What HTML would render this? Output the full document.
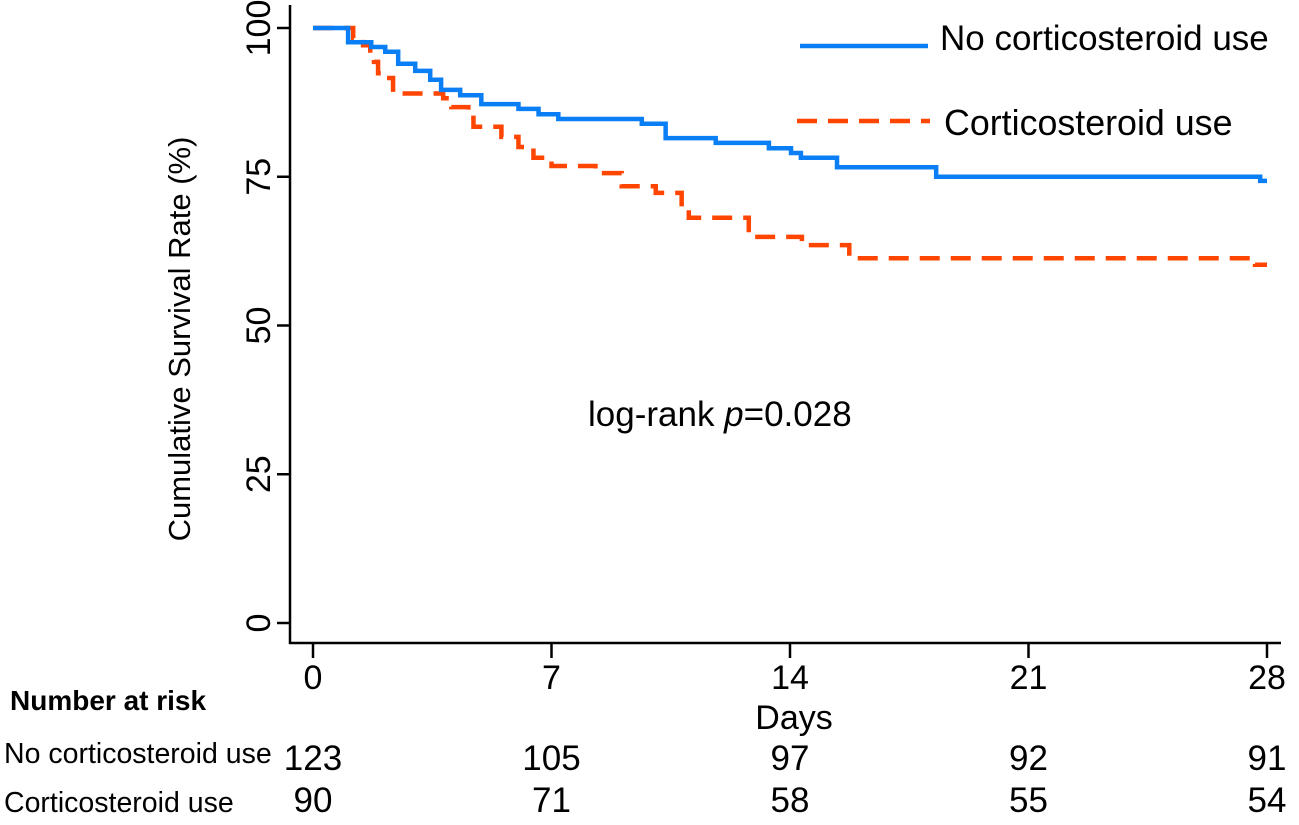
<!DOCTYPE html>
<html><head><meta charset="utf-8"><style>
body{margin:0;background:#fff;}
svg text{font-family:"Liberation Sans",Arial,sans-serif;fill:#000;}
</style></head><body>
<svg width="1299" height="820" viewBox="0 0 1299 820" id="chart">
<rect width="1299" height="820" fill="#fff"/>
<g id="axes"></g>
<g id="curves"></g>
<g>
<line x1="800" y1="46" x2="928" y2="46" stroke="#0A7FF5" stroke-width="4.5"/>
<text x="940" y="50" font-size="35">No corticosteroid use</text>
<line x1="797" y1="121" x2="930" y2="121" stroke="#FF4500" stroke-width="4.5" stroke-dasharray="20,11"/>
<text x="944" y="135" font-size="35.8">Corticosteroid use</text>
</g>
<text x="588" y="426" font-size="35">log-rank <tspan font-style="italic">p</tspan>=0.028</text>
<text transform="translate(190,339) rotate(-90)" text-anchor="middle" font-size="31">Cumulative Survival Rate (%)</text>
<text x="794" y="729" text-anchor="middle" font-size="34">Days</text>
<text x="10" y="710" font-size="28" font-weight="bold">Number at risk</text>
<text x="4" y="763" font-size="28.5">No corticosteroid use</text>
<text x="4" y="812" font-size="28.5">Corticosteroid use</text>
<g id="risk"></g>
</svg>
<script>
const xTicks=[0,7,14,21,28];
const yTicks=[0,25,50,75,100];
const blueTimes=[0,1.03,1.71,2.12,2.5,3.0,3.44,3.76,4.32,4.94,6.03,6.62,7.2,9.65,10.35,11.82,13.38,14.03,14.32,15.38,18.29,27.8];
const blueSurv=[100,97.6,96.8,96.0,94.0,92.8,91.3,89.6,88.7,87.2,86.4,85.5,84.7,83.9,81.5,80.7,79.8,79.0,78.2,76.6,75.0,74.3];
const redTimes=[0,1.18,1.47,1.68,1.79,1.91,2.15,2.35,3.82,4.06,4.56,4.71,5.53,6.03,6.47,7.0,8.29,9.06,10.06,10.82,11.03,12.79,14.35,15.74,27.65];
const redSurv=[100,98.3,97.1,95.8,94.3,92.4,91.6,89.0,88.2,86.7,84.9,83.4,81.7,80.0,78.2,76.8,75.6,73.4,72.3,69.4,68.1,64.9,63.5,61.3,60.2];
const riskNo=[123,105,97,92,91];
const riskCort=[90,71,58,55,54];
const maxDay=28;
const NS='http://www.w3.org/2000/svg';
const X=d=>313+d*(1267-313)/28;
const Y=p=>623-p*(623-28)/100;
function mk(tag,attrs,parent){const e=document.createElementNS(NS,tag);for(const k in attrs)e.setAttribute(k,attrs[k]);parent.appendChild(e);return e;}
const axes=document.getElementById('axes');
let a=mk('line',{x1:290,y1:5,x2:290,y2:644,stroke:'#000','stroke-width':2.5},axes);


a=mk('line',{x1:289,y1:643,x2:1281,y2:643,stroke:'#000','stroke-width':2.5},axes);


yTicks.forEach(v=>{
 const t=mk('line',{x1:277,y1:Y(v),x2:290,y2:Y(v),stroke:'#000','stroke-width':2.5},axes);
 
 
 const l=mk('text',{transform:`translate(270,${Y(v)}) rotate(-90)`,'text-anchor':'middle','font-size':34},axes);
 l.textContent=v;
 
 
});
xTicks.forEach(v=>{
 const t=mk('line',{x1:X(v),y1:643,x2:X(v),y2:658,stroke:'#000','stroke-width':2.5},axes);
 
 
 const l=mk('text',{x:X(v),y:689,'text-anchor':'middle','font-size':34},axes);
 l.textContent=v;
 
 
});
function stepPath(ts,ss){let d=`M${X(ts[0])},${Y(ss[0])}`;for(let i=1;i<ts.length;i++){d+=` H${X(ts[i])} V${Y(ss[i])}`;}d+=` H${X(maxDay)}`;return d;}
const curves=document.getElementById('curves');
let c=mk('path',{d:stepPath(redTimes,redSurv),fill:'none',stroke:'#FF4500','stroke-width':4.5,'stroke-dasharray':'20,11'},curves);


c=mk('path',{d:stepPath(blueTimes,blueSurv),fill:'none',stroke:'#0A7FF5','stroke-width':4.5},curves);


const risk=document.getElementById('risk');
xTicks.forEach((v,i)=>{
 let t=mk('text',{x:X(v),y:770,'text-anchor':'middle','font-size':35},risk);
 t.textContent=riskNo[i];
 
 
 t=mk('text',{x:X(v),y:812,'text-anchor':'middle','font-size':35},risk);
 t.textContent=riskCort[i];
 
 
});
</script>
</body></html>
